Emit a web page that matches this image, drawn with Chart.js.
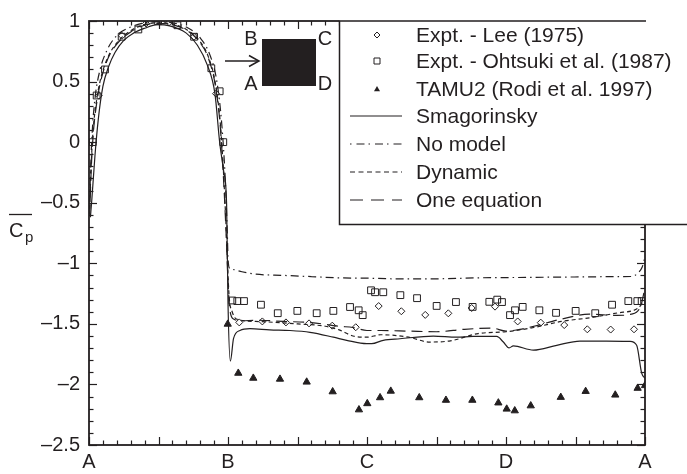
<!DOCTYPE html>
<html>
<head>
<meta charset="utf-8">
<script src="https://cdn.jsdelivr.net/npm/chart.js@4.4.0/dist/chart.umd.min.js"></script>
<style>
  html, body { margin: 0; padding: 0; background: #fff; }
  #wrap { width: 687px; height: 474px; }
</style>
</head>
<body>
<div id="wrap"><canvas id="cpChart" width="687" height="474"></canvas></div>
<script>
// ==========================================
// Mean pressure coefficient round a square cylinder
// x runs along the surface: 0=A, 1=B, 2=C, 3=D, 4=A
// ==========================================

const xTickValues = [0, 1, 2, 3, 4];
const xTickLabels = ['A', 'B', 'C', 'D', 'A'];
const yTickValues = [1, 0.5, 0, -0.5, -1, -1.5, -2, -2.5];
const yTickLabels = ['1', '0.5', '0', '\u20130.5', '\u20131', '\u20131.5', '\u20132', '\u20132.5'];

// Expt. - Lee (1975)
const leeX = [0.07, 0.237, 0.41, 0.576, 0.755, 0.914, 1.081, 1.247, 1.417, 1.583, 1.75, 1.919, 2.084, 2.247, 2.419, 2.585, 2.753, 2.921, 3.084, 3.25, 3.419, 3.585, 3.753, 3.921];
const leeY = [0.384, 0.878, 0.98, 0.99, 0.87, 0.40, -1.488, -1.48, -1.488, -1.496, -1.515, -1.528, -1.353, -1.396, -1.426, -1.413, -1.369, -1.358, -1.48, -1.49, -1.51, -1.545, -1.547, -1.545];

// Expt. - Ohtsuki et al. (1987)
const ohtX = [0.027, 0.055, 0.115, 0.235, 0.355, 0.497, 0.636, 0.756, 0.88, 0.94, 0.966, 1.031, 1.067, 1.115, 1.237, 1.358, 1.499, 1.638, 1.758, 1.878, 1.94, 1.969, 2.029, 2.058, 2.117, 2.24, 2.36, 2.501, 2.64, 2.76, 2.88, 2.937, 2.971, 3.029, 3.065, 3.12, 3.24, 3.36, 3.501, 3.642, 3.763, 3.88, 3.945, 3.976];
const ohtY = [0.0, 0.385, 0.60, 0.87, 0.93, 0.998, 0.965, 0.87, 0.61, 0.42, 0.0, -1.307, -1.312, -1.312, -1.342, -1.412, -1.393, -1.412, -1.393, -1.361, -1.388, -1.428, -1.223, -1.239, -1.239, -1.263, -1.288, -1.352, -1.32, -1.36, -1.318, -1.30, -1.32, -1.428, -1.388, -1.36, -1.388, -1.409, -1.393, -1.412, -1.342, -1.312, -1.312, -1.312];

// TAMU2 (Rodi et al. 1997)
const tamuX = [0.998, 1.074, 1.182, 1.374, 1.566, 1.753, 1.942, 2.002, 2.094, 2.171, 2.376, 2.568, 2.758, 2.945, 3.005, 3.063, 3.178, 3.394, 3.573, 3.786, 3.947, 4.0];
const tamuY = [-1.502, -1.907, -1.948, -1.956, -1.98, -2.06, -2.209, -2.158, -2.109, -2.055, -2.109, -2.13, -2.13, -2.152, -2.203, -2.217, -2.176, -2.106, -2.057, -2.087, -2.031, -2.009];

// Smagorinsky
const smagX = [0.01, 0.02, 0.043, 0.067, 0.10, 0.14, 0.187, 0.25, 0.32, 0.40, 0.49, 0.58, 0.70, 0.78, 0.85, 0.906, 0.94, 0.97, 0.99, 1.0, 1.017, 1.04, 1.086, 1.158, 1.3, 1.446, 1.59, 1.758, 1.854, 1.998, 2.034, 2.117, 2.237, 2.477, 2.645, 2.763, 2.933, 2.981, 3.022, 3.053, 3.197, 3.365, 3.532, 3.724, 3.892, 3.94, 3.976, 4.0];
const smagY = [-0.62, -0.48, -0.11, 0.19, 0.46, 0.62, 0.74, 0.84, 0.90, 0.94, 0.97, 0.96, 0.90, 0.80, 0.64, 0.40, 0.0, -0.25, -0.515, -1.33, -1.807, -1.62, -1.555, -1.54, -1.55, -1.555, -1.57, -1.61, -1.636, -1.664, -1.664, -1.636, -1.623, -1.601, -1.61, -1.604, -1.604, -1.65, -1.698, -1.682, -1.717, -1.677, -1.642, -1.642, -1.645, -1.677, -1.907, -1.95];

// No model
const noModX = [0.005, 0.012, 0.025, 0.045, 0.08, 0.13, 0.2, 0.3, 0.4, 0.5, 0.6, 0.7, 0.8, 0.87, 0.92, 0.955, 0.98, 0.995, 1.0, 1.01, 1.03, 1.1, 1.2, 1.4, 1.6, 1.8, 2.0, 2.2, 2.5, 2.8, 3.0, 3.3, 3.6, 3.8, 3.9, 3.95, 3.98, 4.0];
const noModY = [-0.5, -0.2, 0.12, 0.38, 0.6, 0.76, 0.88, 0.95, 0.985, 0.995, 0.985, 0.95, 0.86, 0.72, 0.5, 0.15, -0.3, -0.75, -0.95, -1.04, -1.05, -1.07, -1.09, -1.10, -1.11, -1.12, -1.123, -1.128, -1.128, -1.12, -1.118, -1.115, -1.112, -1.11, -1.109, -1.08, -1.03, -0.95];

// Dynamic
const dynX = [0.005, 0.015, 0.03, 0.055, 0.09, 0.14, 0.2, 0.3, 0.4, 0.5, 0.6, 0.7, 0.8, 0.86, 0.91, 0.945, 0.97, 0.99, 1.0, 1.01, 1.03, 1.06, 1.2, 1.5, 1.7, 1.8, 1.9, 2.0, 2.1, 2.3, 2.45, 2.6, 2.8, 3.0, 3.2, 3.4, 3.6, 3.8, 3.95, 4.0];
const dynY = [-0.55, -0.2, 0.1, 0.35, 0.55, 0.71, 0.82, 0.92, 0.97, 0.985, 0.975, 0.93, 0.83, 0.70, 0.48, 0.15, -0.3, -0.8, -1.1, -1.3, -1.4, -1.46, -1.48, -1.50, -1.52, -1.55, -1.6, -1.61, -1.59, -1.61, -1.65, -1.64, -1.58, -1.565, -1.53, -1.48, -1.45, -1.41, -1.37, -1.3];

// One equation
const oneEqX = [0.005, 0.015, 0.03, 0.055, 0.09, 0.14, 0.2, 0.3, 0.4, 0.5, 0.6, 0.7, 0.8, 0.86, 0.91, 0.945, 0.97, 0.99, 1.0, 1.01, 1.04, 1.1, 1.2, 1.4, 1.6, 1.8, 1.9, 2.0, 2.1, 2.3, 2.5, 2.7, 2.9, 3.0, 3.1, 3.2, 3.4, 3.6, 3.8, 3.9, 3.97, 4.0];
const oneEqY = [-0.6, -0.25, 0.06, 0.32, 0.53, 0.70, 0.81, 0.91, 0.965, 0.98, 0.97, 0.925, 0.82, 0.69, 0.46, 0.12, -0.35, -0.85, -1.15, -1.35, -1.46, -1.475, -1.47, -1.48, -1.49, -1.52, -1.53, -1.555, -1.555, -1.56, -1.565, -1.545, -1.535, -1.56, -1.545, -1.52, -1.46, -1.42, -1.43, -1.42, -1.35, -1.2];

const FONT = "'Liberation Sans', Arial, sans-serif";
const INK = '#231f20';

document.addEventListener('DOMContentLoaded', () => {
    initChart();
});

function pts(xs, ys) {
    return xs.map((x, i) => ({ x: x, y: ys[i] }));
}

function markerSet(label, xs, ys, style, radius, filled) {
    return {
        label: label,
        data: pts(xs, ys),
        showLine: false,
        pointStyle: style,
        pointRadius: radius,
        pointBorderWidth: 1,
        pointBorderColor: INK,
        pointBackgroundColor: filled ? INK : 'rgba(0,0,0,0)',
        legendMark: style
    };
}

function lineSet(label, xs, ys, dash) {
    return {
        label: label,
        data: pts(xs, ys),
        showLine: true,
        borderColor: INK,
        borderWidth: 1.2,
        borderDash: dash,
        pointRadius: 0,
        cubicInterpolationMode: 'monotone',
        fill: false
    };
}

function seg(ctx, x1, y1, x2, y2) {
    ctx.beginPath();
    ctx.moveTo(x1, y1);
    ctx.lineTo(x2, y2);
    ctx.stroke();
}

function drawMark(ctx, style, x, y, r) {
    ctx.beginPath();
    if (style === 'rectRot') {
        ctx.moveTo(x, y - r); ctx.lineTo(x + r, y); ctx.lineTo(x, y + r); ctx.lineTo(x - r, y);
        ctx.closePath();
        ctx.stroke();
    } else if (style === 'rect') {
        ctx.rect(x - r, y - r, 2 * r, 2 * r);
        ctx.stroke();
    } else {
        ctx.moveTo(x, y - r); ctx.lineTo(x + r, y + r * 0.75); ctx.lineTo(x - r, y + r * 0.75);
        ctx.closePath();
        ctx.fill();
    }
}

// frame, inward ticks, legend box, inset sketch and axis title
const decorPlugin = {
    id: 'decor',
    afterDatasetsDraw(chart) {
        const { ctx, chartArea: a, scales } = chart;
        const sx = scales.x, sy = scales.y;
        ctx.save();
        ctx.strokeStyle = INK;
        ctx.fillStyle = INK;
        ctx.setLineDash([]);

        ctx.lineWidth = 1.2;
        for (let i = 0; i <= 40; i++) {
            const px = Math.round(sx.getPixelForValue(i / 10)) + 0.5;
            const len = i % 5 === 0 ? 8 : 4.5;
            seg(ctx, px, a.bottom, px, a.bottom - len);
            seg(ctx, px, a.top, px, a.top + len);
        }
        for (let i = 0; i <= 35; i++) {
            const py = Math.round(sy.getPixelForValue(-2.5 + i / 10)) + 0.5;
            const len = i % 5 === 0 ? 8 : 4.5;
            seg(ctx, a.left, py, a.left + len, py);
            seg(ctx, a.right, py, a.right - len, py);
        }

        ctx.lineWidth = 1.8;
        ctx.strokeRect(a.left, a.top, a.width, a.height);

        // legend box, running off the right edge of the picture
        const bx = 339.5, by = a.top, bb = 224.5;
        ctx.fillStyle = '#fff';
        ctx.fillRect(bx, by - 2, chart.width - bx, bb - by + 2);
        ctx.fillStyle = INK;
        ctx.lineWidth = 1.5;
        ctx.beginPath();
        ctx.moveTo(a.right + 1, by);
        ctx.lineTo(bx, by);
        ctx.lineTo(bx, bb);
        ctx.lineTo(chart.width, bb);
        ctx.stroke();

        const rowY = [35, 61, 89, 116, 144, 172, 200];
        ctx.font = '21px ' + FONT;
        ctx.textBaseline = 'middle';
        ctx.textAlign = 'left';
        chart.data.datasets.forEach((ds, i) => {
            const yy = rowY[i];
            ctx.lineWidth = 1;
            ctx.setLineDash([]);
            if (ds.legendMark) {
                drawMark(ctx, ds.legendMark, 377, yy, 3);
            } else {
                ctx.lineWidth = 1.2;
                ctx.setLineDash(ds.legendDash || []);
                seg(ctx, 350, yy, 402, yy);
                ctx.setLineDash([]);
            }
            ctx.fillText(ds.label, 416, yy + 1);
        });

        // inset: flow arrow onto the square section
        ctx.fillRect(262, 39, 54, 47);
        ctx.lineWidth = 1.5;
        seg(ctx, 225, 61, 258, 61);
        ctx.beginPath();
        ctx.moveTo(249, 55.5); ctx.lineTo(259, 61); ctx.lineTo(249, 66.5);
        ctx.stroke();
        ctx.font = '20px ' + FONT;
        ctx.textAlign = 'center';
        ctx.fillText('B', 251, 39);
        ctx.fillText('C', 325, 39);
        ctx.fillText('A', 251, 84);
        ctx.fillText('D', 325, 84);

        // y axis title: C with overbar, subscript p
        ctx.textAlign = 'left';
        ctx.font = '20px ' + FONT;
        ctx.fillText('C', 9, 231);
        ctx.font = '15px ' + FONT;
        ctx.fillText('p', 25, 238);
        ctx.lineWidth = 1.3;
        seg(ctx, 9, 214.5, 32, 214.5);
        ctx.restore();
    }
};

function initChart() {
    const ctx = document.getElementById('cpChart');

    const oneEq = lineSet('One equation', oneEqX, oneEqY, [11, 6]);
    oneEq.legendDash = [13, 8];
    const noMod = lineSet('No model', noModX, noModY, [8, 4, 1.5, 4]);
    noMod.legendDash = [1.5, 5, 8, 4];
    const dyn = lineSet('Dynamic', dynX, dynY, [4, 3]);
    dyn.legendDash = [5, 3.5];

    new Chart(ctx, {
        type: 'scatter',
        data: {
            datasets: [
                markerSet('Expt. - Lee (1975)', leeX, leeY, 'rectRot', 3.5, false),
                markerSet('Expt. - Ohtsuki et al. (1987)', ohtX, ohtY, 'rect', 4.8, false),
                markerSet('TAMU2 (Rodi et al. 1997)', tamuX, tamuY, 'triangle', 4.2, true),
                lineSet('Smagorinsky', smagX, smagY, []),
                noMod,
                dyn,
                oneEq
            ]
        },
        options: {
            responsive: false,
            animation: false,
            devicePixelRatio: 1,
            layout: { padding: { top: 13, right: 42, left: 0, bottom: 0 } },
            plugins: {
                legend: { display: false },
                tooltip: { enabled: false }
            },
            scales: {
                x: {
                    type: 'linear',
                    min: 0,
                    max: 4,
                    afterBuildTicks: (s) => { s.ticks = xTickValues.map(v => ({ value: v })); },
                    afterFit: (s) => { s.height = 29; },
                    grid: { display: false, drawTicks: false },
                    border: { display: false },
                    ticks: {
                        padding: 5,
                        color: INK,
                        maxRotation: 0,
                        autoSkip: false,
                        font: { family: FONT, size: 20 },
                        callback: (v) => xTickLabels[xTickValues.indexOf(v)]
                    }
                },
                y: {
                    type: 'linear',
                    min: -2.5,
                    max: 1,
                    afterBuildTicks: (s) => { s.ticks = yTickValues.map(v => ({ value: v })); },
                    afterFit: (s) => { s.width = 89; },
                    grid: { display: false, drawTicks: false },
                    border: { display: false },
                    ticks: {
                        padding: 9,
                        color: INK,
                        autoSkip: false,
                        font: { family: FONT, size: 20 },
                        callback: (v) => yTickLabels[yTickValues.indexOf(v)]
                    }
                }
            }
        },
        plugins: [decorPlugin]
    });
}
</script>
</body>
</html>
